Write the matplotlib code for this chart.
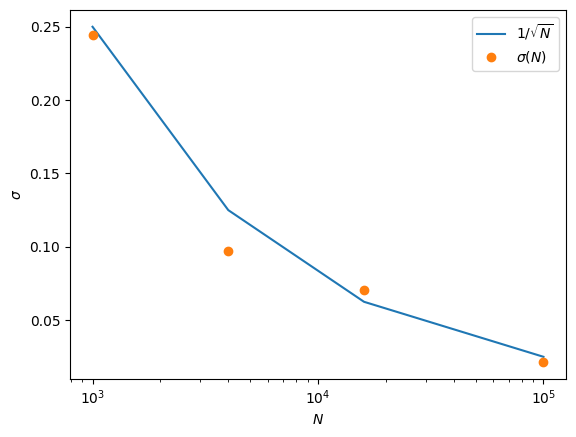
import matplotlib
matplotlib.use('Agg')
import matplotlib.pyplot as plt

# Data
N = [1000, 4000, 16000, 100000]
expected = [0.25, 0.125, 0.0625, 0.025]
sigma = [0.2445, 0.097, 0.0705, 0.0213]

fig, ax = plt.subplots(figsize=(5.76, 4.37), dpi=100)
fig.subplots_adjust(left=70 / 576, right=566 / 576, top=1 - 10 / 437, bottom=1 - 379 / 437)

ax.plot(N, expected, label=r'$1/\sqrt{N}$')
ax.plot(N, sigma, 'o', label=r'$\sigma(N)$')
ax.set_xscale('log')
ax.set_xlabel('$N$')
ax.set_ylabel(r'$\sigma$')
ax.legend()

fig.savefig('out.png')
